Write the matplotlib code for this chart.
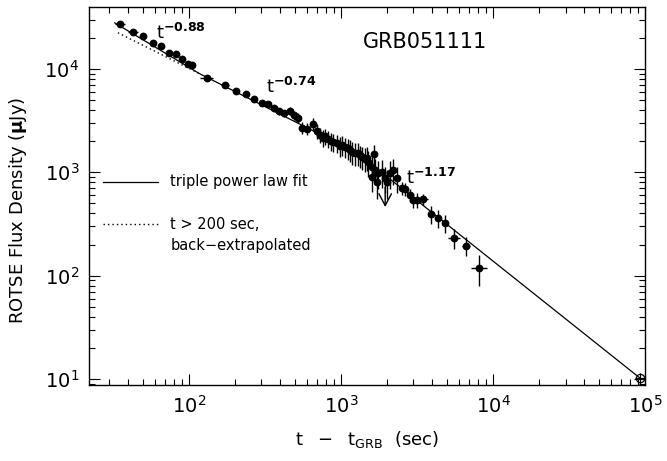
import matplotlib
matplotlib.use("Agg")
import matplotlib.pyplot as plt
from matplotlib.ticker import LogLocator, NullFormatter

plt.rcParams['font.family'] = ['DejaVu Sans']
plt.rcParams['mathtext.fontset'] = 'dejavusans'

# ---- data (time in s, flux in microJy) ----
t_obs = [35.2, 42.9, 49.9, 57.9, 65.5, 74.0, 82.2, 90.0, 98.6, 104.7,
         131.5, 172.5, 204, 237, 268, 302, 331, 363, 391, 423,
         463, 492, 522, 555, 599, 656, 697, 729,
         764, 791, 823, 857, 887, 943, 987, 1022, 1064, 1114,
         1148, 1184, 1239, 1297, 1330, 1378, 1443, 1473, 1510, 1653,
         1603, 1679, 1758, 1868, 1954, 2109, 2205, 1603, 1730, 2016, 2344,
         2528, 2645, 2853, 2987, 3172, 3475, 3922, 4363, 4853, 5564, 6671, 8111]
flux = [27300, 22800, 20800, 17900, 16700, 14300, 14000, 12500, 11200, 10900,
        8190, 7000, 6120, 5730, 5130, 4690, 4580, 4190, 3920, 3750,
        3920, 3590, 3360, 2690, 2630, 2940, 2510, 2300,
        2150, 2230, 2100, 2000, 1960, 1920, 1800, 1850, 1760, 1720,
        1650, 1570, 1540, 1540, 1460, 1410, 1350, 1390, 1260, 1500,
        1130, 1050, 985, 1010, 880, 985, 1050, 900, 806, 806, 880,
        705, 689, 602, 539, 539, 552, 395, 361, 323, 231, 194, 119]
flux_err = [600, 600, 600, 500, 500, 500, 500, 500, 500, 500,
            400, 350, 300, 300, 300, 300, 300, 300, 300, 300,
            350, 350, 350, 350, 350, 400, 400, 400,
            400, 400, 400, 400, 400, 400, 400, 400, 400, 400,
            400, 400, 400, 400, 350, 350, 350, 350, 350, 350,
            300, 300, 300, 300, 250, 300, 300, 250, 250, 250, 250,
            100, 100, 90, 90, 90, 70, 80, 72, 65, 50, 40, 40]
t_err = [2.5, 3, 2.5, 2.5, 2.5, 2.5, 2.5, 2.5, 2.5, 2.5,
         13, 10, 10, 10, 10, 10, 10, 10, 10, 10,
         10, 10, 10, 10, 10, 10, 10, 10,
         10, 10, 10, 10, 10, 10, 10, 10, 10, 10,
         10, 10, 10, 10, 10, 10, 10, 10, 10, 10,
         10, 10, 10, 10, 10, 10, 10, 10, 10, 10, 10,
         30, 30, 30, 30, 30, 240, 60, 60, 60, 530, 440, 990]

# late-time point (open circle)
t_late = [92700]
flux_late = [10.2]
flux_late_err = [1.3]
t_late_err = [7000]

# upper limit
t_ul = 1954
flux_ul = 721
flux_ul_tip = 461

# triple power-law fit (vertices of the broken line)
fit_t = [32.5, 117.6, 1286, 92700]
fit_F = [27900, 8990, 1530, 10.2]
# t>200 s fit back-extrapolated
ext_t = [34.1, 117.6]
ext_F = [22400, 8990]

fig = plt.figure(figsize=(6.67, 4.61), dpi=100)
ax = fig.add_axes([0.1334, 0.1649, 0.8336, 0.8193])
ax.set_xscale('log')
ax.set_yscale('log')

ax.plot(fit_t, fit_F, color='k', lw=0.9)
ax.plot(ext_t, ext_F, color='k', lw=1.0, ls=(0, (1, 2.2)))

ax.errorbar(t_obs, flux, yerr=flux_err, xerr=t_err, fmt='o', color='k',
            ms=4.6, elinewidth=1.0, capsize=0)
ax.errorbar(t_late, flux_late, yerr=flux_late_err, xerr=t_late_err, fmt='o',
            mfc='none', mec='k', color='k', ms=6, mew=0.9, elinewidth=0.9, capsize=0)

ax.annotate('', xy=(t_ul, flux_ul_tip), xytext=(t_ul, flux_ul),
            arrowprops=dict(arrowstyle='->,head_length=0.85,head_width=0.45',
                            mutation_scale=10, color='k', lw=1.0,
                            shrinkA=0, shrinkB=0))

ax.set_xlim(22.0, 1e5)
ax.set_ylim(8.75, 3.95e4)

for axis in (ax.xaxis, ax.yaxis):
    axis.set_major_locator(LogLocator(base=10, numticks=20))
    axis.set_minor_locator(LogLocator(base=10, subs=range(2, 10), numticks=20))
    axis.set_minor_formatter(NullFormatter())

ax.tick_params(which='both', direction='in', top=True, right=True, width=0.8)
ax.tick_params(which='major', length=8, labelsize=14, pad=7)
ax.tick_params(which='minor', length=4)
for s in ax.spines.values():
    s.set_linewidth(1.0)

ax.set_xlabel(r'$\mathregular{t\ \ -\ \ t_{GRB}\ \ (sec)}$', fontsize=13, labelpad=9)
ax.set_ylabel(r'ROTSE Flux Density ($\mathbf{\mu}$Jy)', fontsize=13)
ax.yaxis.set_label_coords(-0.108, 0.463)

ax.text(0.493, 0.908, 'GRB051111', transform=ax.transAxes, fontsize=15,
        ha='left', va='center')

ax.text(60.7, 19500, r'$\mathregular{t}^{\mathbf{-0.88}}$', fontsize=13, ha='left', va='baseline')
ax.text(321, 5860, r'$\mathregular{t}^{\mathbf{-0.74}}$', fontsize=13, ha='left', va='baseline')
ax.text(2687, 771, r'$\mathregular{t}^{\mathbf{-1.17}}$', fontsize=13, ha='left', va='baseline')

# legend drawn in axes coordinates
ax.plot([0.025, 0.124], [0.5375, 0.5375], transform=ax.transAxes, color='k', lw=0.9)
ax.plot([0.025, 0.124], [0.426, 0.426], transform=ax.transAxes, color='k', lw=1.0,
        ls=(0, (1, 2.2)))
ax.text(0.146, 0.5375, 'triple power law fit', transform=ax.transAxes,
        fontsize=10.5, va='center', ha='left')
ax.text(0.146, 0.426, 't > 200 sec,', transform=ax.transAxes,
        fontsize=10.5, va='center', ha='left')
ax.text(0.146, 0.368, 'back\u2212extrapolated', transform=ax.transAxes,
        fontsize=10.5, va='center', ha='left')

fig.savefig('out.png', dpi=100)
